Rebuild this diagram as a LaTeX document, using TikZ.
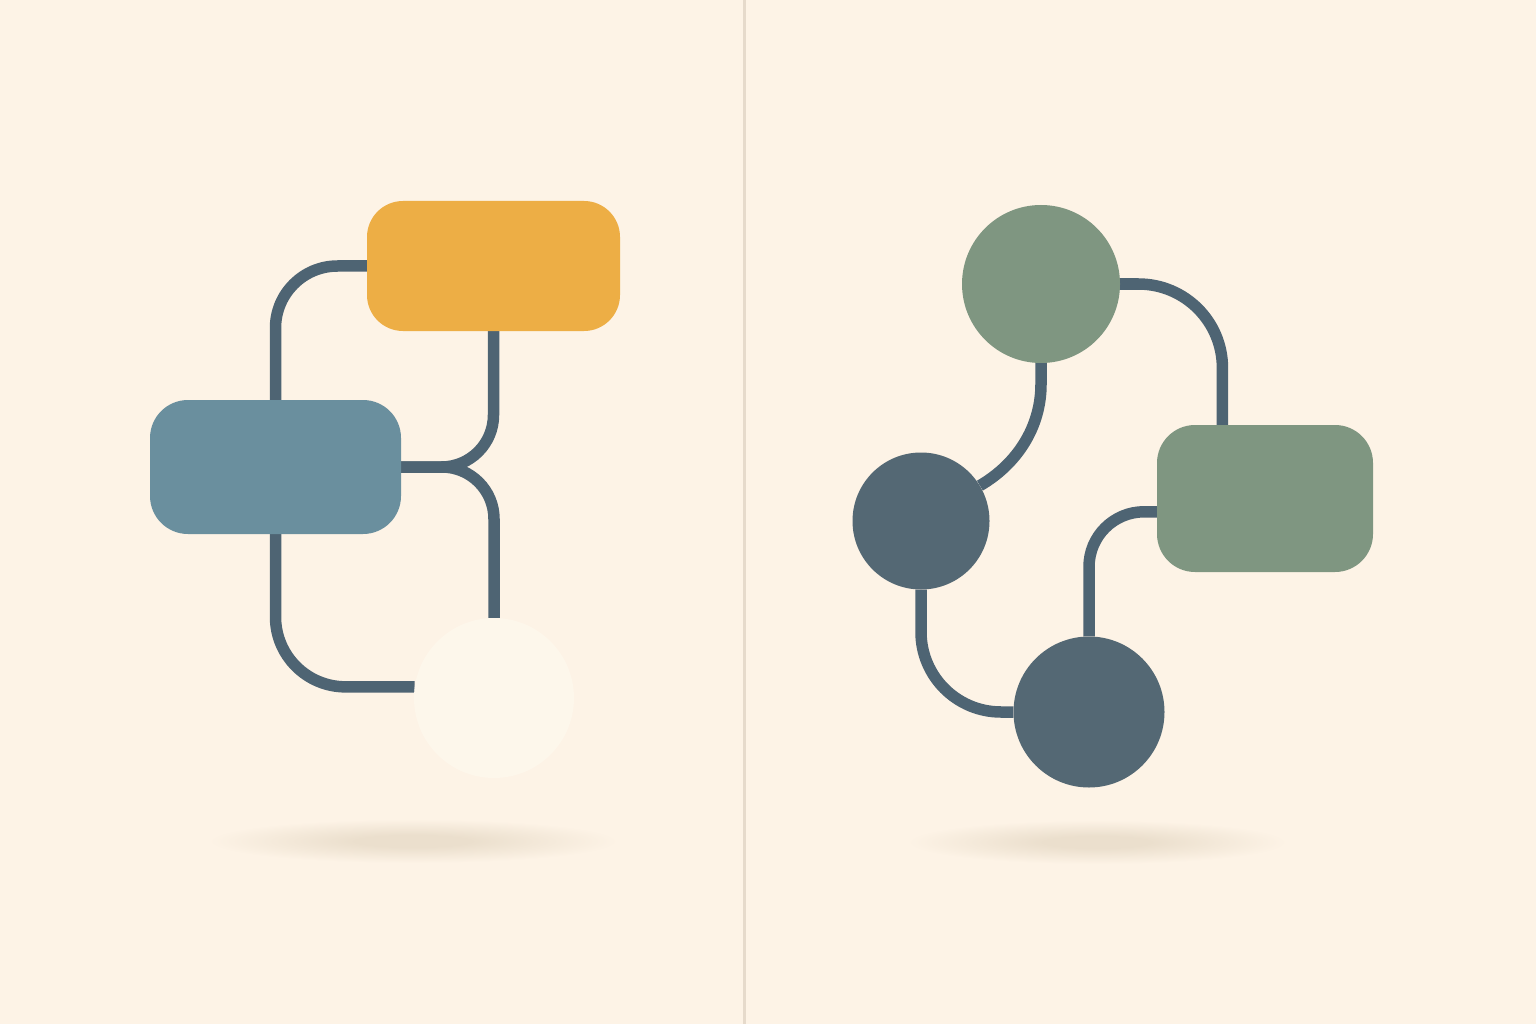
\documentclass[tikz,border=0pt]{standalone}
\definecolor{bgc}{HTML}{FDF3E6}
\definecolor{divc}{HTML}{E6DACB}
\definecolor{orangec}{HTML}{EDAE45}
\definecolor{bluec}{HTML}{6A8F9E}
\definecolor{linec}{HTML}{4E6473}
\definecolor{creamc}{HTML}{FDF7EB}
\definecolor{sagec}{HTML}{7F9681}
\definecolor{slatec}{HTML}{546874}
\definecolor{shadowc}{HTML}{EBDFCD}
\colorlet{shadowmid}{shadowc!50!bgc}
\pgfdeclareradialshading{softshadow}{\pgfpoint{0bp}{0bp}}{color(0bp)=(shadowc); color(7bp)=(shadowc); color(16bp)=(shadowmid); color(25bp)=(bgc); color(50bp)=(bgc)}
\pgfdeclarelayer{under}
\pgfdeclarelayer{wires}
\pgfsetlayers{under,wires,main}
\begin{document}
\begin{tikzpicture}[x=1pt,y=-1pt,
  box/.style={rectangle, inner sep=0pt, draw=none},
  disc/.style={circle, inner sep=0pt, draw=none},
  wire/.style={draw=linec, line width=11.5pt},
]
\begin{pgfonlayer}{under}
\fill[bgc] (0,0) rectangle (1536,1024);
\fill[divc] (742.5,0) rectangle (745.5,1024);
\shade[shading=softshadow] (413,841) ellipse [x radius=205, y radius=22];
\shade[shading=softshadow] (1097,842) ellipse [x radius=190, y radius=22];
\end{pgfonlayer}
\useasboundingbox (0,0) rectangle (1536,1024);

% left panel
\node[box, rounded corners=36pt, fill=orangec, minimum width=253pt, minimum height=130pt] (orange) at (493.5,266) {};
\node[box, rounded corners=38pt, fill=bluec, minimum width=251pt, minimum height=134pt] (blue) at (275.5,467) {};
\node[disc, fill=creamc, minimum size=160pt] (cream) at (494,698) {};

% right panel
\node[disc, fill=sagec, minimum size=158pt] (top) at (1041,284) {};
\node[box, rounded corners=38pt, fill=sagec, minimum width=216pt, minimum height=147pt] (green) at (1265,498.5) {};
\node[disc, fill=slatec, minimum size=137pt] (d1) at (921,521) {};
\node[disc, fill=slatec, minimum size=151pt] (d2) at (1089,712) {};

\begin{pgfonlayer}{wires}
\draw[wire, rounded corners=62pt] (orange.west) -| (blue.north);
\draw[wire, rounded corners=52pt] (orange.south) |- (blue.east);
\draw[wire, rounded corners=52pt] (blue.east) -| (cream.north);
\draw[wire, rounded corners=70pt] (blue.south) |- (cream.172);

\draw[wire, rounded corners=84pt] (top.east) -| (green.120);
\draw[wire] (top.south) -- ++(0,21) .. controls +(0,43) and +(37,-21.5) .. (d1.31);
\draw[wire, rounded corners=80pt] (d1.south) |- (d2.west);
\draw[wire, rounded corners=55pt] (green.187) -| (d2.north);
\end{pgfonlayer}
\end{tikzpicture}
\end{document}
